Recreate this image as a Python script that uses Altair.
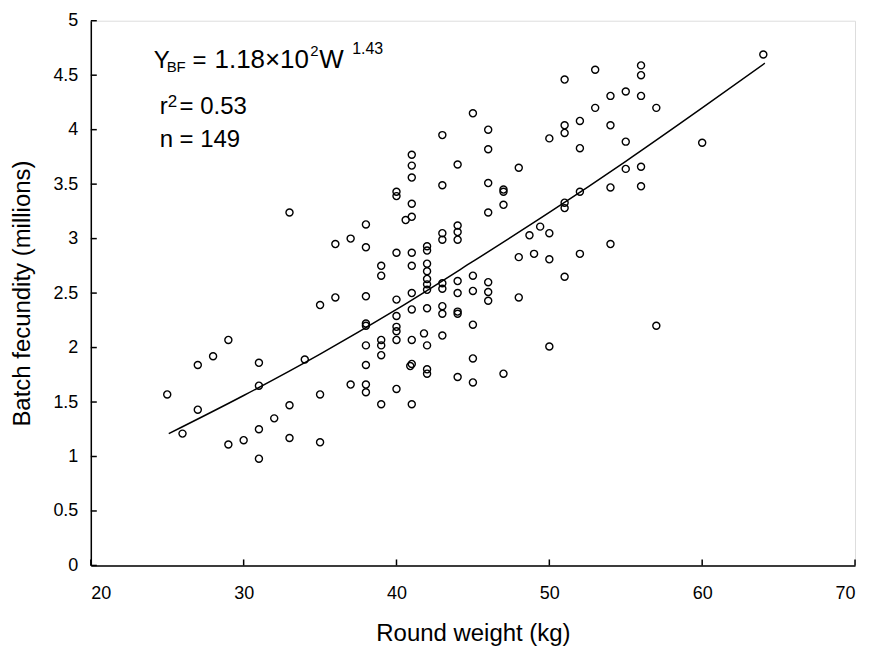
import altair as alt
import pandas as pd

# Scatter data (round weight kg, batch fecundity millions)
weight = [25, 26, 27, 27, 28, 29, 29, 30, 31, 31, 31, 31, 32, 33, 33, 33, 34, 35, 35, 35,
          36, 36, 37, 37, 38, 38, 38, 38, 38, 38, 38, 38, 38, 39, 39, 39, 39, 39, 39,
          40, 40, 40, 40, 40, 40, 40, 40, 40, 40.6, 41, 41, 41, 41, 41, 41, 41, 41, 41, 41,
          41, 40.9, 41, 41.8, 42, 42, 42, 42, 42, 42, 42, 42, 42, 42, 42,
          43, 43, 43, 43, 43, 43, 43, 43, 43, 44, 44, 44, 44, 44, 44, 44, 44, 44,
          45, 45, 45, 45, 45, 45, 46, 46, 46, 46, 46, 46, 46, 47, 47, 47, 47,
          48, 48, 48, 48.7, 49, 49.4, 50, 50, 50, 50, 51, 51, 51, 51, 51, 51,
          52, 52, 52, 52, 53, 53, 54, 54, 54, 54, 55, 55, 55, 56, 56, 56, 56, 56,
          57, 57, 60, 64]
fecundity = [1.57, 1.21, 1.84, 1.43, 1.92, 2.07, 1.11, 1.15, 1.86, 1.65, 1.25, 0.98, 1.35, 1.47, 1.17, 3.24, 1.89, 2.39, 1.57, 1.13,
             2.46, 2.95, 3.00, 1.66, 3.13, 2.92, 2.47, 2.22, 2.20, 2.02, 1.84, 1.66, 1.59, 2.75, 2.66, 2.07, 2.02, 1.93, 1.48,
             3.43, 3.39, 2.87, 2.44, 2.29, 2.19, 2.15, 2.07, 1.62, 3.17, 3.77, 3.67, 3.56, 3.32, 3.20, 2.87, 2.75, 2.50, 2.35, 2.07,
             1.85, 1.83, 1.48, 2.13, 2.93, 2.89, 2.77, 2.70, 2.63, 2.58, 2.53, 2.36, 2.02, 1.80, 1.76,
             3.95, 3.49, 3.05, 2.99, 2.59, 2.54, 2.38, 2.31, 2.11, 3.68, 3.12, 3.06, 2.99, 2.61, 2.50, 2.33, 2.31, 1.73,
             4.15, 2.66, 2.52, 2.21, 1.90, 1.68, 4.00, 3.82, 3.51, 3.24, 2.60, 2.51, 2.43, 3.45, 3.43, 3.31, 1.76,
             3.65, 2.83, 2.46, 3.03, 2.86, 3.11, 3.92, 3.05, 2.81, 2.01, 4.46, 4.04, 3.97, 3.33, 3.28, 2.65,
             4.08, 3.83, 3.43, 2.86, 4.55, 4.20, 4.31, 4.04, 3.47, 2.95, 4.35, 3.89, 3.64, 4.59, 4.50, 4.31, 3.66, 3.48,
             4.20, 2.20, 3.88, 4.69]

# Fitted curve at several weights
fit_weight = [25.1, 30, 35, 40, 45, 50, 55, 60, 64.1]
fit_fecundity = [1.21, 1.56, 1.94, 2.35, 2.79, 3.24, 3.71, 4.20, 4.61]

y_ticks = [0, 0.5, 1, 1.5, 2, 2.5, 3, 3.5, 4, 4.5, 5]
x_ticks = [20, 30, 40, 50, 60, 70]

W, H = 766, 546
FONT = "Liberation Sans"

pts = pd.DataFrame({"w": weight, "f": fecundity})
fit = pd.DataFrame({"w": fit_weight, "f": fit_fecundity})

xscale = alt.Scale(domain=[20, 70], nice=False, zero=False)
yscale = alt.Scale(domain=[0, 5], nice=False)

xaxis = alt.Axis(values=x_ticks, title="Round weight (kg)", grid=False, ticks=False, tickSize=0,
                 labelPadding=19, titlePadding=19, labelFontSize=18, titleFontSize=24,
                 labelFont=FONT, titleFont=FONT, labelColor="black", titleColor="black",
                 titleFontWeight="normal", domainColor="black", domainWidth=1.5)
yaxis = alt.Axis(values=y_ticks, title="Batch fecundity (millions)", grid=False, ticks=False, tickSize=0,
                 format="~g", labelPadding=13, titlePadding=18, labelFontSize=18, titleFontSize=24,
                 labelFont=FONT, titleFont=FONT, labelColor="black", titleColor="black",
                 titleFontWeight="normal", domainColor="black", domainWidth=1.5)

points = alt.Chart(pts).mark_point(shape="circle", filled=False, color="black",
                                   size=50, strokeWidth=1.4, opacity=1).encode(
    x=alt.X("w:Q", scale=xscale, axis=xaxis),
    y=alt.Y("f:Q", scale=yscale, axis=yaxis),
)

line = alt.Chart(fit).mark_line(color="black", strokeWidth=1.5, interpolate="monotone").encode(
    x=alt.X("w:Q", scale=xscale),
    y=alt.Y("f:Q", scale=yscale),
)

# inward ticks
yt = alt.Chart(pd.DataFrame({"v": y_ticks})).mark_rule(color="black", strokeWidth=1.5).encode(
    y=alt.Y("v:Q", scale=yscale), x=alt.value(0), x2=alt.value(6))
xt = alt.Chart(pd.DataFrame({"v": x_ticks})).mark_rule(color="black", strokeWidth=1.5).encode(
    x=alt.X("v:Q", scale=xscale), y=alt.value(H), y2=alt.value(H - 6))

# annotation text segments
ann_text = ["Y", "BF", "=", "1.18×10", "2", "W", "1.43", "r", "2", "= 0.53", "n = 149"]
ann_x = [63, 76, 102, 124, 220, 229, 262, 69, 77, 89, 69]
ann_y = [47, 51, 47, 47, 35, 47, 33, 93, 86, 93, 127]
ann_size = [24, 15, 24, 26, 15, 26, 16, 24, 17, 24, 24]

texts = []
for t, x, y, s in zip(ann_text, ann_x, ann_y, ann_size):
    texts.append(alt.Chart(pd.DataFrame({"t": [t]})).mark_text(
        align="left", baseline="alphabetic", font=FONT, fontSize=s, color="black").encode(
        text="t:N", x=alt.value(x), y=alt.value(y)))

chart = alt.layer(points, line, yt, xt, *texts).properties(
    width=W, height=H,
    autosize=alt.AutoSizeParams(type="none"),
    padding={"left": 83, "top": 12, "right": 8, "bottom": 82},
).configure_view(stroke=None).configure(background="white")

chart.save("out.html", embed_options={"renderer": "svg", "actions": False})
